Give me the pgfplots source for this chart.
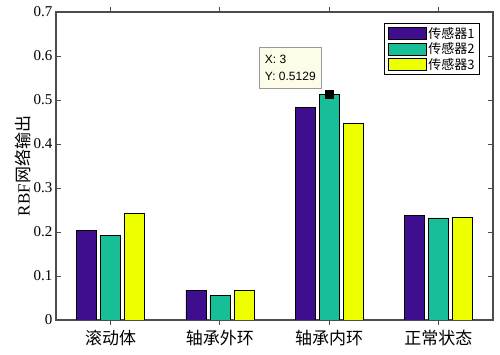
\documentclass[border=0pt]{standalone}
\usepackage{fontspec}
\setmainfont{Liberation Serif}
\setsansfont{Liberation Sans}
\newfontfamily\cjk{Noto Sans CJK SC}
\usepackage{pgfplots}
\pgfplotsset{compat=1.18}
\definecolor{cA}{RGB}{62,14,142}
\definecolor{cB}{RGB}{24,190,152}
\definecolor{cC}{RGB}{238,255,0}
\definecolor{tipfill}{RGB}{252,252,232}
\begin{document}
\begin{tikzpicture}
\path[use as bounding box] (-56pt,-35pt) rectangle (444pt,320pt);
\begin{axis}[
  at={(0,0)}, anchor=south west,
  scale only axis, width=437pt, height=308pt,
  xmin=0.5, xmax=4.5, ymin=0, ymax=0.7,
  xtick={1,2,3,4},
  xticklabels={{\cjk 滚动体},{\cjk 轴承外环},{\cjk 轴承内环},{\cjk 正常状态}},
  ytick={0,0.1,0.2,0.3,0.4,0.5,0.6,0.7},
  yticklabel style={/pgf/number format/fixed,/pgf/number format/precision=1},
  /pgf/number format/assume math mode=true,
  tick label style={font=\fontsize{15}{17}\selectfont},
  xticklabel style={font=\fontsize{17}{19}\selectfont, yshift=-2pt},
  ylabel={RBF{\cjk 网络输出}},
  ylabel style={font=\fontsize{17}{19}\selectfont, yshift=-4pt},
  tick align=inside, tick pos=both,
  major tick length=5pt,
  axis line style={draw=black!70, line width=1.2pt},
  every tick/.style={black!70, line width=0.8pt},
  ybar, bar width=20pt,
  legend style={at={(0.970,0.964)}, anchor=north east, draw=black, line width=0.8pt,
    font=\cjk\fontsize{13}{15}\selectfont, row sep=-1pt, inner xsep=3pt, inner ysep=2pt, cells={anchor=west}},
  legend image code/.code={\draw[#1, draw=black, line width=0.6pt] (0pt,-6pt) rectangle (38pt,6pt);},
]
\addplot[fill=cA, draw=black, line width=0.6pt, bar shift=-24pt] coordinates {(1,0.203) (2,0.068) (3,0.4826) (4,0.237)};
\addplot[fill=cB, draw=black, line width=0.6pt, bar shift=0pt] coordinates {(1,0.192) (2,0.056) (3,0.5129) (4,0.232)};
\addplot[fill=cC, draw=black, line width=0.6pt, bar shift=24pt] coordinates {(1,0.242) (2,0.068) (3,0.447) (4,0.234)};
\legend{传感器1,传感器2,传感器3}
\addplot[forget plot, only marks, mark=square*, mark size=4pt, black, bar shift=0pt, ybar=0pt] coordinates {(3,0.5129)};
\node[draw=black!40, fill=tipfill, line width=0.6pt, font=\sffamily\fontsize{12}{17}\selectfont, align=left, inner sep=4pt, minimum width=62pt, minimum height=41pt]
  at (axis cs:2.645,0.574) {X: 3\\Y: 0.5129};
\end{axis}
\end{tikzpicture}
\end{document}
